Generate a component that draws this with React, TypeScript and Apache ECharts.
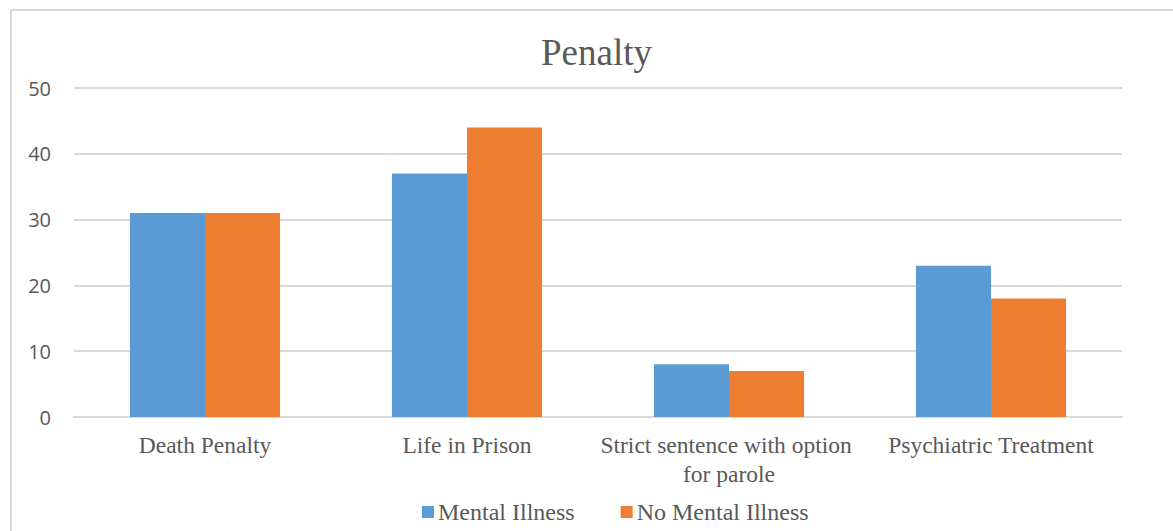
import React, { useEffect, useRef } from "react";
import * as echarts from "echarts";

const categories = [
  "Death Penalty",
  "Life in Prison",
  "Strict sentence with option for parole",
  "Psychiatric Treatment",
];
const mentalIllness = [31, 37, 8, 23];
const noMentalIllness = [31, 44, 7, 18];
const yTicks = [0, 10, 20, 30, 40, 50];

export default function App() {
  const ref = useRef<HTMLDivElement>(null);
  useEffect(() => {
    if (!ref.current) return;
    const chart = echarts.init(ref.current, null, { renderer: "svg" });
    const serif = "'Liberation Serif', 'Times New Roman', serif";
    chart.setOption({
      animation: false,
      backgroundColor: "#ffffff",
      title: {
        text: "Penalty",
        left: 536,
        top: 29,
        textStyle: { fontFamily: serif, fontSize: 37, fontWeight: "normal", color: "#595959" },
      },
      graphic: [
        {
          type: "rect",
          shape: { x: 11, y: 10, width: 1300, height: 700 },
          style: { fill: "none", stroke: "#d9d9d9", lineWidth: 2 },
          silent: true,
        },
      ],
      legend: {
        left: 417,
        top: 495,
        itemWidth: 12,
        itemHeight: 12,
        itemGap: 46,
        icon: "rect",
        textStyle: { fontFamily: serif, fontSize: 24, color: "#595959", padding: [0, 0, 0, -1] },
      },
      grid: { left: 74, right: 51, top: 88, bottom: 114 },
      xAxis: {
        type: "category",
        data: categories,
        axisTick: { show: false },
        axisLine: { lineStyle: { color: "#d9d9d9", width: 2 } },
        axisLabel: {
          interval: 0,
          margin: 13,
          fontFamily: serif,
          fontSize: 23.5,
          color: "#595959",
          lineHeight: 29,
          width: 262,
          overflow: "break",
        },
      },
      yAxis: {
        type: "value",
        min: yTicks[0],
        max: yTicks[yTicks.length - 1],
        interval: 10,
        axisLine: { show: false },
        axisTick: { show: false },
        splitLine: { lineStyle: { color: "#d9d9d9", width: 2 } },
        axisLabel: { fontFamily: "'Open Sans', sans-serif", fontSize: 20, color: "#595959", margin: 23 },
      },
      series: [
        {
          name: "Mental Illness",
          type: "bar",
          data: mentalIllness,
          itemStyle: { color: "#5B9BD5" },
          barGap: "0%",
          barCategoryGap: "42.7%",
        },
        {
          name: "No Mental Illness",
          type: "bar",
          data: noMentalIllness,
          itemStyle: { color: "#ED7D31" },
          barGap: "0%",
          barCategoryGap: "42.7%",
        },
      ],
    });
    return () => chart.dispose();
  }, []);
  return (
    <div
      ref={ref}
      style={{ position: "fixed", left: 0, top: 0, width: 1173, height: 531 }}
    />
  );
}
